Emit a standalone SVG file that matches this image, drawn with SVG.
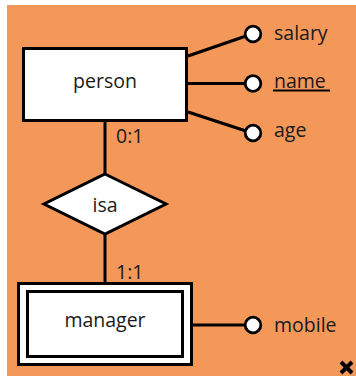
<svg xmlns="http://www.w3.org/2000/svg" width="356" height="376" viewBox="0 0 356 376">
<style>
.ent{fill:#fff;stroke:#000;stroke-width:3}
.lbl{font-family:"Open Sans","Liberation Sans",sans-serif;font-size:19.5px;fill:#1a1a1a}
.mid{text-anchor:middle;dominant-baseline:central}
.attr{fill:#fff;stroke:#000;stroke-width:2.8}
.con{stroke:#000;stroke-width:3;fill:none}
</style>
<rect x="7" y="5" width="349" height="371" fill="#f4985a"/>
<g id="connectors">
<line class="con" x1="188" y1="56" x2="246" y2="36"/>
<line class="con" x1="188" y1="83.5" x2="246" y2="83.5"/>
<line class="con" x1="188" y1="112" x2="246" y2="131"/>
<line class="con" x1="105" y1="122" x2="105" y2="174"/>
<line class="con" x1="105" y1="234" x2="105" y2="283"/>
<line class="con" x1="190" y1="325" x2="246" y2="325"/>
<text class="lbl" x="116" y="143">0:1</text>
<text class="lbl" x="116" y="279">1:1</text>
</g>
<g id="person">
<rect class="ent" x="23.5" y="48.5" width="163" height="72"/>
<text class="lbl mid" x="105" y="80">person</text>
</g>
<g id="isa">
<polygon class="ent" points="105,174 166,204 105,234 44,204"/>
<text class="lbl mid" x="105" y="204.5">isa</text>
</g>
<g id="manager">
<rect class="ent" x="18.5" y="283.5" width="173" height="81"/>
<rect class="ent" x="27.5" y="291.5" width="155" height="65"/>
<text class="lbl mid" x="105" y="319.5">manager</text>
</g>
<g id="salary">
<circle class="attr" cx="253" cy="34" r="7.8"/>
<text class="lbl" x="274" y="40">salary</text>
</g>
<g id="name">
<circle class="attr" cx="253" cy="83.5" r="7.8"/>
<text class="lbl" x="274" y="88">name</text>
<line x1="273" y1="90.5" x2="330" y2="90.5" stroke="#000" stroke-width="2"/>
</g>
<g id="age">
<circle class="attr" cx="253" cy="133" r="7.8"/>
<text class="lbl" x="274" y="137">age</text>
</g>
<g id="mobile">
<circle class="attr" cx="253" cy="325" r="7.8"/>
<text class="lbl" x="274" y="332">mobile</text>
</g>
<path d="M341,362 L352,373 M352,362 L341,373" stroke="#000" stroke-width="4"/>
</svg>
